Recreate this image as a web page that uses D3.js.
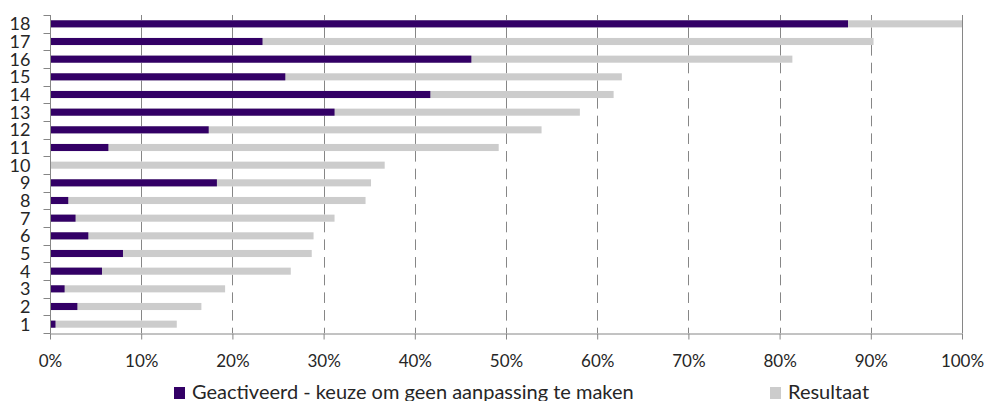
<!DOCTYPE html>
<html>
<head>
<meta charset="utf-8">
<script src="https://cdn.jsdelivr.net/npm/d3@7"></script>
<style>
  body { margin: 0; background: #fff; }
  text { font-family: Lato, "Open Sans", sans-serif; fill: #262626; }
</style>
</head>
<body>
<svg id="chart" width="988" height="401"></svg>
<script>
// categories bottom (1) to top (18)
const categories = ["1","2","3","4","5","6","7","8","9","10","11","12","13","14","15","16","17","18"];
// share "Geactiveerd - keuze om geen aanpassing te maken"
const geactiveerd = [0.006, 0.030, 0.016, 0.057, 0.080, 0.042, 0.028, 0.020, 0.183, 0.000,
                     0.064, 0.174, 0.312, 0.417, 0.258, 0.462, 0.233, 0.875];
// total bar length "Resultaat"
const resultaat = [0.139, 0.166, 0.192, 0.264, 0.287, 0.289, 0.312, 0.346, 0.352, 0.367,
                   0.492, 0.539, 0.581, 0.618, 0.627, 0.814, 0.903, 1.000];
const xTicks = [0, 0.1, 0.2, 0.3, 0.4, 0.5, 0.6, 0.7, 0.8, 0.9, 1.0];
const seriesNames = ["Geactiveerd - keuze om geen aanpassing te maken", "Resultaat"];
const colors = ["#330066", "#cccccc"];

const svg = d3.select("#chart");
const plotLeft = 50, plotRight = 962, plotTop = 15, plotBottom = 333;
const axisColor = "#868686";

const x = d3.scaleLinear().domain([0, 1]).range([plotLeft, plotRight]);
const y = d3.scaleBand()
    .domain(categories.slice().reverse())
    .range([plotTop, plotBottom])
    .paddingInner(0.6)
    .paddingOuter(0.3);

const step = y.step(), bw = y.bandwidth();
const gap = step - bw;

// dashed gridlines, gaps line up with the bars
svg.append("g")
    .selectAll("line")
    .data(xTicks.filter(d => d > 0 && d < 1))
    .enter().append("line")
    .attr("x1", d => Math.round(x(d)) + 0.5)
    .attr("x2", d => Math.round(x(d)) + 0.5)
    .attr("y1", plotTop)
    .attr("y2", plotBottom)
    .attr("stroke", axisColor)
    .attr("stroke-width", 1)
    .attr("stroke-dasharray", gap + " " + bw)
    .attr("stroke-dashoffset", gap / 2);

// right border at 100%
svg.append("line")
    .attr("x1", Math.round(x(1)) + 0.5).attr("x2", Math.round(x(1)) + 0.5)
    .attr("y1", plotTop).attr("y2", plotBottom)
    .attr("stroke", axisColor);

// bars
const rows = categories.map((c, i) => ({ cat: c, a: geactiveerd[i], r: resultaat[i] }));

svg.append("g").selectAll("rect")
    .data(rows)
    .enter().append("rect")
    .attr("x", x(0))
    .attr("y", d => y(d.cat))
    .attr("width", d => x(d.r) - x(0))
    .attr("height", bw)
    .attr("fill", colors[1]);

svg.append("g").selectAll("rect")
    .data(rows.filter(d => d.a > 0))
    .enter().append("rect")
    .attr("x", x(0))
    .attr("y", d => y(d.cat))
    .attr("width", d => x(d.a) - x(0))
    .attr("height", bw)
    .attr("fill", colors[0]);

// x axis
const gx = svg.append("g")
    .attr("transform", "translate(0," + (plotBottom + 0.5) + ")")
    .call(d3.axisBottom(x).tickValues(xTicks).tickFormat(d3.format(".0%")).tickSize(6).tickSizeOuter(0));
gx.select(".domain").attr("stroke", axisColor);
gx.selectAll(".tick line").attr("stroke", axisColor);
gx.selectAll(".tick text")
    .attr("font-size", 17)
    .attr("y", 21)
    .attr("dy", "0.71em")
    .attr("font-family", "Lato, sans-serif");

// y axis: ticks sit between categories
const gy = svg.append("g").attr("transform", "translate(" + (plotLeft + 0.5) + ",0)");
gy.append("line")
    .attr("y1", plotTop).attr("y2", plotBottom + 0.5)
    .attr("stroke", axisColor);
gy.selectAll(".bt")
    .data(d3.range(categories.length + 1))
    .enter().append("line")
    .attr("x1", -7).attr("x2", 0)
    .attr("y1", i => Math.round(plotTop + i * step) + 0.5)
    .attr("y2", i => Math.round(plotTop + i * step) + 0.5)
    .attr("stroke", axisColor);
gy.selectAll("text")
    .data(categories)
    .enter().append("text")
    .attr("x", -20)
    .attr("y", d => y(d) + bw / 2)
    .attr("dy", "0.36em")
    .attr("text-anchor", "end")
    .attr("font-size", 18)
    .text(d => d);

// legend
const legend = svg.append("g");
const legendX = [174, 770];
seriesNames.forEach((name, i) => {
  legend.append("rect")
    .attr("x", legendX[i]).attr("y", 387)
    .attr("width", 11).attr("height", 12)
    .attr("fill", colors[i]);
  legend.append("text")
    .attr("x", legendX[i] + 18).attr("y", 399)
    .attr("font-size", 20)
    .text(name);
});
</script>
</body>
</html>
